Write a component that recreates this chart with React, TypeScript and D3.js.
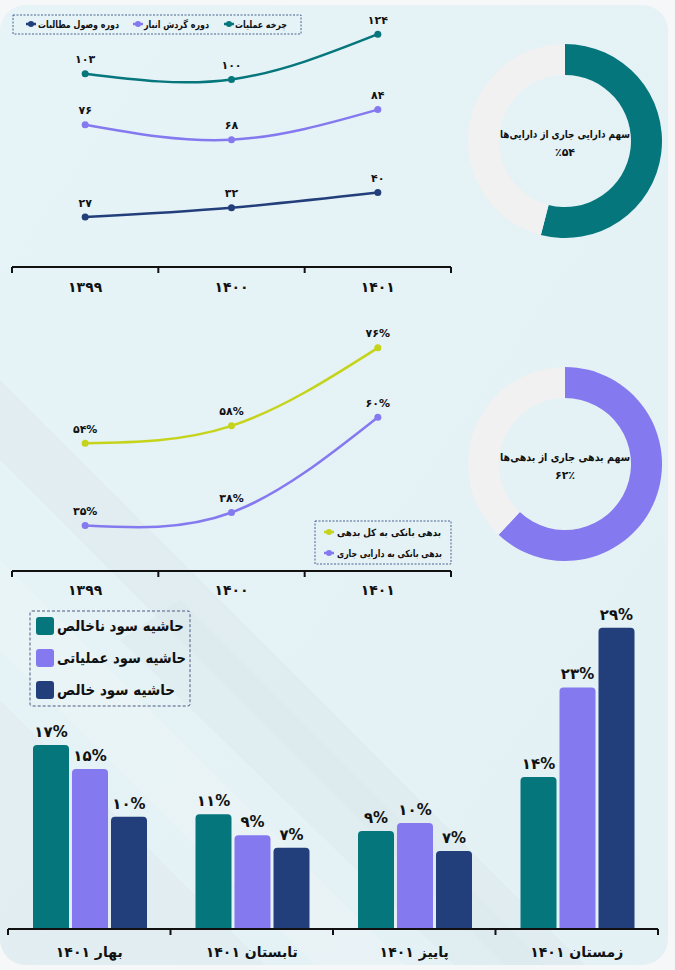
import React from 'react';
import * as d3 from 'd3';

// ---------- data ----------
const years = ['1399', '1400', '1401'];
const operatingCycle = [103, 100, 124];
const inventoryTurnover = [76, 68, 84];
const receivablePeriod = [27, 32, 40];
const line1Names = ['چرخه عملیات', 'دوره گردش انبار', 'دوره وصول مطالبات'];

const bankDebtToTotalDebt = [54, 58, 76];
const bankDebtToCurrentAssets = [35, 38, 60];
const line2Names = ['بدهی بانکی به کل بدهی', 'بدهی بانکی به دارایی جاری'];

const currentAssetShare = 54;
const currentDebtShare = 62;
const donutTitles = ['سهم دارایی جاری از دارایی‌ها', 'سهم بدهی جاری از بدهی‌ها'];

const quarters = ['بهار ۱۴۰۱', 'تابستان ۱۴۰۱', 'پاییز ۱۴۰۱', 'زمستان ۱۴۰۱'];
const grossMargin = [17.37, 10.6, 8.96, 14.24];
const operatingMargin = [15.03, 8.55, 9.74, 23.0];
const netMargin = [10.36, 7.33, 7.0, 28.84];
const barNames = ['حاشیه سود ناخالص', 'حاشیه سود عملیاتی', 'حاشیه سود خالص'];

// ---------- styles ----------
const TEAL = '#05767b';
const PURPLE = '#8579f0';
const NAVY = '#233f7b';
const LIME = '#c5d41b';
const RING = '#f1f1f1';
const FONT = "'DejaVu Sans', sans-serif";
const INK = '#111111';

const fa = (s: string | number) => String(s).replace(/[0-9]/g, (d) => '۰۱۲۳۴۵۶۷۸۹'[+d]);

const xBand = d3.scaleBand<string>().domain(years).range([12, 451]).padding(0);
const cx = (i: number) => (xBand(years[i]) as number) + xBand.bandwidth() / 2;

type TP = { x: number; y: number; size: number; anchor?: string; width?: number; children: React.ReactNode };
function T({ x, y, size, anchor = 'middle', width, children }: TP) {
  const extra: any = width ? { textLength: width, lengthAdjust: 'spacingAndGlyphs' } : {};
  return (
    <text x={x} y={y} textAnchor={anchor} dominantBaseline="central" fontFamily={FONT}
      fontWeight="bold" fontSize={size} fill={INK} {...extra}>{children}</text>
  );
}

function BandAxis({ y, labelY }: { y: number; labelY: number }) {
  const edges = [...years.map((v) => xBand(v) as number), xBand.range()[1]];
  return (
    <g>
      <line x1={edges[0]} x2={edges[edges.length - 1]} y1={y} y2={y} stroke={INK} strokeWidth={2} />
      {edges.map((e, i) => (
        <line key={i} x1={e} x2={e} y1={y} y2={y + 6} stroke={INK} strokeWidth={2} />
      ))}
      {years.map((v, i) => (
        <T key={v} x={cx(i)} y={labelY} size={14}>{fa(v)}</T>
      ))}
    </g>
  );
}

function LineSeries({ values, color, y, fmt }: { values: number[]; color: string; y: d3.ScaleLinear<number, number>; fmt: (v: number) => string }) {
  const line = d3.line<number>().x((_, i) => cx(i)).y((v) => y(v)).curve(d3.curveNatural);
  return (
    <g>
      <path d={line(values) || ''} fill="none" stroke={color} strokeWidth={2.5} />
      {values.map((v, i) => (
        <g key={i}>
          <circle cx={cx(i)} cy={y(v)} r={3.5} fill={color} />
          <T x={cx(i)} y={y(v) - 14} size={11}>{fmt(v)}</T>
        </g>
      ))}
    </g>
  );
}

function LegendMarker({ x, y, color }: { x: number; y: number; color: string }) {
  return (
    <g>
      <line x1={x - 5} x2={x + 5} y1={y} y2={y} stroke={color} strokeWidth={2.5} />
      <circle cx={x} cy={y} r={3} fill={color} />
    </g>
  );
}

function Donut({ cxp, cyp, value, color, title, valueText }: { cxp: number; cyp: number; value: number; color: string; title: string; valueText: string }) {
  const arcs = d3.pie<number>().sort(null)([value, 100 - value]);
  const arc = d3.arc<d3.PieArcDatum<number>>().innerRadius(66).outerRadius(97);
  return (
    <g transform={`translate(${cxp},${cyp})`}>
      {arcs.map((a, i) => (
        <path key={i} d={arc(a) || ''} fill={i === 0 ? color : RING} />
      ))}
      <T x={0} y={-7} size={11} width={130}>{title}</T>
      <T x={0} y={11} size={11}>{valueText}</T>
    </g>
  );
}

function topRounded(x: number, y: number, w: number, h: number, r: number) {
  const rr = Math.max(0, Math.min(r, h, w / 2));
  return `M${x},${y + h}V${y + rr}Q${x},${y} ${x + rr},${y}H${x + w - rr}Q${x + w},${y} ${x + w},${y + rr}V${y + h}Z`;
}

export default function App() {
  const y1 = d3.scaleLinear().domain([0, 140]).range([268, 4]);
  const y2 = d3.scaleLinear().domain([24.5, 86]).range([571, 304.5]);
  const x0 = d3.scaleBand<string>().domain(quarters).range([8, 658]).padding(0);
  const x1 = d3.scaleBand<number>().domain([0, 1, 2]).range([25, 139]).paddingInner(0.0769);
  const yBar = d3.scaleLinear().domain([-0.57, 30]).range([928.5, 615.9]);
  const barSeries = [grossMargin, operatingMargin, netMargin];
  const barColors = [TEAL, PURPLE, NAVY];
  const barEdges = [...quarters.map((q) => x0(q) as number), x0.range()[1]];
  const barBase = yBar(yBar.domain()[0]);

  const top1Legend = [
    { name: line1Names[0], color: TEAL, mx: 229, tx: 235, w: 52 },
    { name: line1Names[1], color: PURPLE, mx: 138, tx: 144, w: 65 },
    { name: line1Names[2], color: NAVY, mx: 31, tx: 38, w: 81 },
  ];
  const line2Legend = [
    { name: line2Names[0], color: LIME, w: 104 },
    { name: line2Names[1], color: PURPLE, w: 105 },
  ];
  const barLegendW = [127, 129, 118];

  return (
    <svg width={675} height={970} viewBox="0 0 675 970"
      style={{ position: 'absolute', left: 0, top: 0, display: 'block' }}>
      <defs>
        <clipPath id="panel">
          <rect x={0} y={5} width={668} height={960} rx={26} />
        </clipPath>
        <linearGradient id="panelGrad" x1="0" y1="0" x2="1" y2="1">
          <stop offset="0" stopColor="#e6f3f7" />
          <stop offset="1" stopColor="#e3f0f4" />
        </linearGradient>
      </defs>
      <rect x={0} y={0} width={675} height={970} fill="#f6f7f8" />
      <rect x={0} y={5} width={668} height={960} rx={26} fill="url(#panelGrad)" />
      <g clipPath="url(#panel)">
        <polygon points="0,380 600,980 520,980 0,460" fill="#d9e6e8" opacity={0.35} />
        <polygon points="0,560 420,980 330,980 0,650" fill="#ffffff" opacity={0.18} />
        <polygon points="180,600 560,980 470,980 120,640" fill="#d5e3e6" opacity={0.25} />
        <polygon points="0,700 270,970 0,970" fill="#d9e6e8" opacity={0.3} />
      </g>

      {/* ---------- chart 1 ---------- */}
      <rect x={13} y={15} width={288} height={19} fill="none" stroke={NAVY} strokeWidth={0.8} strokeDasharray="2,1.5" />
      {top1Legend.map((l) => (
        <g key={l.name}>
          <LegendMarker x={l.mx} y={24} color={l.color} />
          <T x={l.tx} y={24} size={10} anchor="start" width={l.w}>{l.name}</T>
        </g>
      ))}
      <LineSeries values={operatingCycle} color={TEAL} y={y1} fmt={(v) => fa(v)} />
      <LineSeries values={inventoryTurnover} color={PURPLE} y={y1} fmt={(v) => fa(v)} />
      <LineSeries values={receivablePeriod} color={NAVY} y={y1} fmt={(v) => fa(v)} />
      <BandAxis y={267} labelY={287} />

      <Donut cxp={565} cyp={141} value={currentAssetShare} color={TEAL} title={donutTitles[0]}
        valueText={'٪' + fa(currentAssetShare)} />

      {/* ---------- chart 2 ---------- */}
      <LineSeries values={bankDebtToTotalDebt} color={LIME} y={y2} fmt={(v) => fa(v) + '%'} />
      <LineSeries values={bankDebtToCurrentAssets} color={PURPLE} y={y2} fmt={(v) => fa(v) + '%'} />
      <rect x={315} y={521} width={136} height={43} fill="none" stroke={NAVY} strokeWidth={0.8} strokeDasharray="2,1.5" />
      {line2Legend.map((l, i) => (
        <g key={l.name}>
          <LegendMarker x={329} y={532 + i * 21} color={l.color} />
          <T x={337} y={532 + i * 21} size={10} anchor="start" width={l.w}>{l.name}</T>
        </g>
      ))}
      <BandAxis y={571} labelY={590} />

      <Donut cxp={565} cyp={464} value={currentDebtShare} color={PURPLE} title={donutTitles[1]}
        valueText={fa(currentDebtShare) + '٪'} />

      {/* ---------- bars ---------- */}
      <rect x={30} y={611} width={160} height={95} rx={2} fill="none" stroke="#4d5a80" strokeWidth={1} strokeDasharray="3,2" />
      {barNames.map((n, i) => (
        <g key={n}>
          <rect x={36} y={617 + i * 32} width={18} height={18} rx={3} fill={barColors[i]} />
          <T x={57} y={626 + i * 32} size={15} anchor="start" width={barLegendW[i]}>{n}</T>
        </g>
      ))}
      {quarters.map((q, qi) => (
        <g key={q} transform={`translate(${x0(q)},0)`}>
          {barSeries.map((s, si) => {
            const v = s[qi];
            const bx = x1(si) as number;
            const by = yBar(v);
            return (
              <g key={si}>
                <path d={topRounded(bx, by, x1.bandwidth(), barBase - by, 4)} fill={barColors[si]} />
                <T x={bx + x1.bandwidth() / 2} y={by - 13} size={15}>{fa(Math.round(v)) + '%'}</T>
              </g>
            );
          })}
        </g>
      ))}
      <line x1={barEdges[0]} x2={barEdges[barEdges.length - 1]} y1={929} y2={929} stroke={INK} strokeWidth={2} />
      {barEdges.map((e, i) => (
        <line key={i} x1={e} x2={e} y1={929} y2={935} stroke={INK} strokeWidth={2} />
      ))}
      {quarters.map((q) => (
        <T key={q} x={(x0(q) as number) + x0.bandwidth() / 2} y={952} size={14}>{q}</T>
      ))}
    </svg>
  );
}
